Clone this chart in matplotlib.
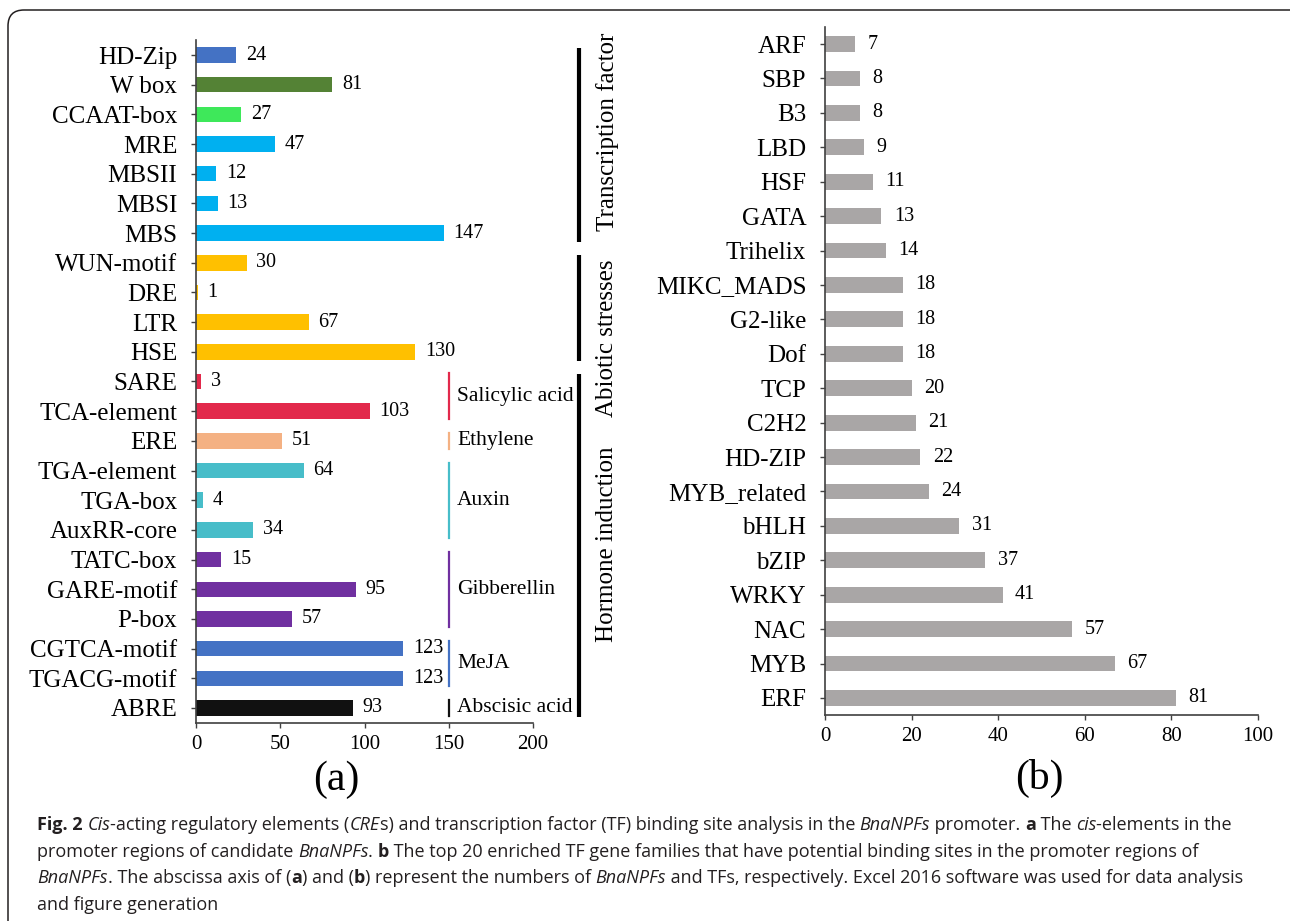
import matplotlib
matplotlib.use("Agg")
import matplotlib.pyplot as plt
import matplotlib.patches as mpatches
from matplotlib.transforms import IdentityTransform
from matplotlib.font_manager import FontProperties

plt.rcParams["font.family"] = ["Liberation Serif", "DejaVu Serif"]

# panel (a): cis-elements, top to bottom
cre_names = ["HD-Zip", "W box", "CCAAT-box", "MRE", "MBSII", "MBSI", "MBS",
             "WUN-motif", "DRE", "LTR", "HSE",
             "SARE", "TCA-element", "ERE", "TGA-element", "TGA-box", "AuxRR-core",
             "TATC-box", "GARE-motif", "P-box", "CGTCA-motif", "TGACG-motif", "ABRE"]
cre_counts = [24, 81, 27, 47, 12, 13, 147,
              30, 1, 67, 130,
              3, 103, 51, 64, 4, 34,
              15, 95, 57, 123, 123, 93]
cre_colors = ["#4472C4", "#548235", "#3EE85A", "#00B0F0", "#00B0F0", "#00B0F0", "#00B0F0",
              "#FFC000", "#FFC000", "#FFC000", "#FFC000",
              "#E2294B", "#E2294B", "#F4B183", "#47BDC9", "#47BDC9", "#47BDC9",
              "#7030A0", "#7030A0", "#7030A0", "#4472C4", "#4472C4", "#111111"]

# hormone sub-groups: (label, first row, last row, colour)
hormone_groups = [("Salicylic acid", "SARE", "TCA-element", "#E2294B"),
                  ("Ethylene", "ERE", "ERE", "#F4B183"),
                  ("Auxin", "TGA-element", "AuxRR-core", "#47BDC9"),
                  ("Gibberellin", "TATC-box", "P-box", "#7030A0"),
                  ("MeJA", "CGTCA-motif", "TGACG-motif", "#4472C4"),
                  ("Abscisic acid", "ABRE", "ABRE", "#111111")]
main_groups = [("Transcription factor", "HD-Zip", "MBS"),
               ("Abiotic stresses", "WUN-motif", "HSE"),
               ("Hormone induction", "SARE", "ABRE")]

# panel (b): TF families, top to bottom
tf_names = ["ARF", "SBP", "B3", "LBD", "HSF", "GATA", "Trihelix", "MIKC_MADS", "G2-like",
            "Dof", "TCP", "C2H2", "HD-ZIP", "MYB_related", "bHLH", "bZIP", "WRKY", "NAC",
            "MYB", "ERF"]
tf_counts = [7, 8, 8, 9, 11, 13, 14, 18, 18, 18, 20, 21, 22, 24, 31, 37, 41, 57, 67, 81]

W, H = 1290, 921
fig = plt.figure(figsize=(W / 100, H / 100), dpi=100)


def style_axes(ax):
    for side in ["top", "right"]:
        ax.spines[side].set_visible(False)
    for side in ["left", "bottom"]:
        ax.spines[side].set_color("#404040")
        ax.spines[side].set_linewidth(1.2)
    ax.tick_params(axis="both", direction="out", length=3.5, width=1.0, color="#404040")
    ax.tick_params(axis="x", labelsize=15, pad=5)
    ax.tick_params(axis="y", labelsize=18, pad=10)


# ---- panel (a)
axa = fig.add_axes([196 / W, 1 - 722.8 / H, 337 / W, 682.6 / H])
ya = list(range(len(cre_names)))
axa.barh(ya, cre_counts, height=0.52, color=cre_colors)
axa.set_xlim(0, 200)
axa.set_ylim(len(cre_names) - 0.5, -0.5)
axa.set_yticks(ya)
axa.set_yticklabels(cre_names)
axa.set_xticks([0, 50, 100, 150, 200])
style_axes(axa)
for y, v in zip(ya, cre_counts):
    axa.annotate(str(v), (v, y), xytext=(7, 0), textcoords="offset points",
                 va="center", ha="left", fontsize=14.5)

pad = 0.27
for label, first, last, col in hormone_groups:
    i0, i1 = cre_names.index(first), cre_names.index(last)
    axa.plot([150, 150], [i0 - pad, i1 + pad], color=col, lw=1.6, clip_on=False)
    axa.text(155, (i0 + i1) / 2, label, fontsize=15.5, va="center", ha="left")

label_rows = [2.6, 9.55, 16.5]
for (label, first, last), ty in zip(main_groups, label_rows):
    i0, i1 = cre_names.index(first), cre_names.index(last)
    axa.plot([227.5, 227.5], [i0 - 0.25, i1 + 0.3], color="black", lw=3, clip_on=False,
             solid_capstyle="butt")
    axa.text(244, ty, label, fontsize=18, rotation=90, va="center", ha="center")

fig.text(336 / W, 1 - 780 / H, "(a)", fontsize=30, ha="center", va="center")

# ---- panel (b)
axb = fig.add_axes([825 / W, 1 - 715.2 / H, 433 / W, 688.4 / H])
yb = list(range(len(tf_names)))
axb.barh(yb, tf_counts, height=0.46, color="#A9A6A6")
axb.set_xlim(0, 100)
axb.set_ylim(len(tf_names) - 0.5, -0.5)
axb.set_yticks(yb)
axb.set_yticklabels(tf_names)
axb.set_xticks([0, 20, 40, 60, 80, 100])
style_axes(axb)
for y, v in zip(yb, tf_counts):
    axb.annotate(str(v), (v, y), xytext=(9, 0), textcoords="offset points",
                 va="center", ha="left", fontsize=14.5)

fig.text(1039 / W, 1 - 778 / H, "(b)", fontsize=30, ha="center", va="center")

# ---- rounded frame
frame = mpatches.FancyBboxPatch((8, -40), W + 40, H - 10 + 40,
                                boxstyle="round,pad=0,rounding_size=16",
                                transform=IdentityTransform(), fill=False,
                                edgecolor="#231F20", lw=1.1)
fig.add_artist(frame)

# ---- caption with mixed bold / italic runs
CAP_FONT = ["Open Sans", "DejaVu Sans"]
CAP_SIZE = 13.0
CAP_COLOR = "#231F20"
N, B, I = "normal", "bold", "italic"
caption = [
    [("Fig. 2", B), (" ", N), ("Cis", I), ("-acting regulatory elements (", N), ("CRE", I),
     ("s) and transcription factor (TF) binding site analysis in the ", N), ("BnaNPFs", I),
     (" promoter. ", N), ("a", B), (" The ", N), ("cis", I), ("-elements in the", N)],
    [("promoter regions of candidate ", N), ("BnaNPFs", I), (". ", N), ("b", B),
     (" The top 20 enriched TF gene families that have potential binding sites in the promoter regions of", N)],
    [("BnaNPFs", I), (". The abscissa axis of (", N), ("a", B), (") and (", N), ("b", B),
     (") represent the numbers of ", N), ("BnaNPFs", I),
     (" and TFs, respectively. Excel 2016 software was used for data analysis", N)],
    [("and figure generation", N)],
]

renderer = fig.canvas.get_renderer()


def run_props(kind):
    return FontProperties(family=CAP_FONT, size=CAP_SIZE,
                          weight="bold" if kind == B else "normal",
                          style="italic" if kind == I else "normal")


def run_width(s, prop):
    w1 = renderer.get_text_width_height_descent(s + "|", prop, ismath=False)[0]
    w0 = renderer.get_text_width_height_descent("|", prop, ismath=False)[0]
    return w1 - w0


for k, line in enumerate(caption):
    x = 37
    y = H - (830 + 26.7 * k)
    for s, kind in line:
        prop = run_props(kind)
        fig.text(x, y, s, fontproperties=prop, color=CAP_COLOR,
                 transform=IdentityTransform(), va="baseline", ha="left")
        x += run_width(s, prop)

fig.savefig("out.png", dpi=100)
